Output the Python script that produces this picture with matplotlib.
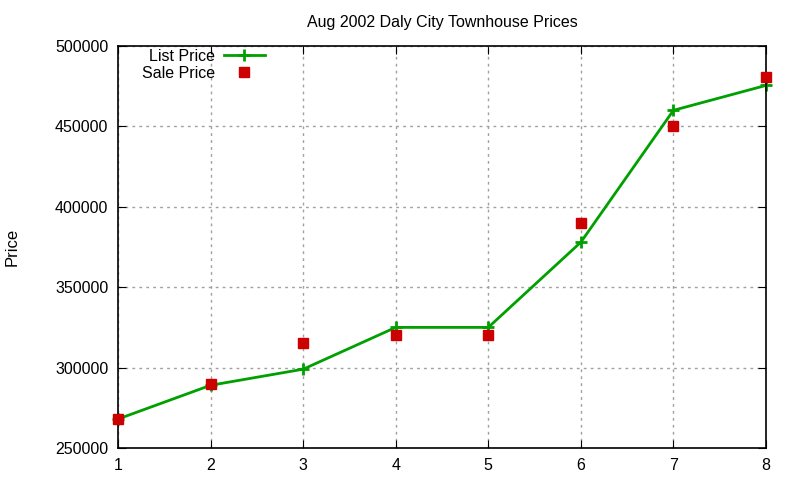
import matplotlib.pyplot as plt

# data
x = [1, 2, 3, 4, 5, 6, 7, 8]
list_price = [268000, 289000, 299000, 325000, 325000, 378000, 460000, 475500]
sale_price = [268000, 290000, 315000, 320000, 320000, 390000, 450000, 480500]

plt.rcParams["font.family"] = ["Liberation Sans", "DejaVu Sans"]

fig = plt.figure(figsize=(8, 4.8), dpi=100)
ax = fig.add_axes([118 / 800, 1 - 448 / 480, (766 - 118) / 800, (448 - 46) / 480])

ax.plot(x, list_price, color="#00a000", linewidth=2, marker="+",
        markersize=9, markeredgewidth=2, label="List Price", clip_on=False)
ax.plot(x, sale_price, linestyle="none", color="#cc0000", marker="s",
        markersize=7, label="Sale Price", clip_on=False, zorder=3)

ax.set_xlim(1, 8)
ax.set_ylim(250000, 500000)
ax.set_xticks(x)
ax.set_yticks(range(250000, 500001, 50000))
ax.ticklabel_format(style="plain", axis="y", useOffset=False)

ax.tick_params(direction="in", top=True, right=True, labelsize=11.5, length=6)
ax.tick_params(axis="x", pad=7)
ax.tick_params(axis="y", pad=7)
ax.grid(True, linestyle=(0, (2, 3)), color="#a0a0a0", linewidth=1)
for s in ax.spines.values():
    s.set_linewidth(1.2)

ax.set_title("Aug 2002 Daly City Townhouse Prices", fontsize=11.5, pad=14)
fig.text(12 / 800, 1 - 247 / 480, "Price", rotation=90, fontsize=12,
         ha="center", va="center")

ax.legend(loc="upper left", bbox_to_anchor=(0.034, 0.997), frameon=False,
          markerfirst=False, fontsize=11.5, handlelength=2.6,
          labelspacing=0.12, borderaxespad=0.0, borderpad=0.1,
          handletextpad=0.55)

fig.savefig("out.png", dpi=100)
